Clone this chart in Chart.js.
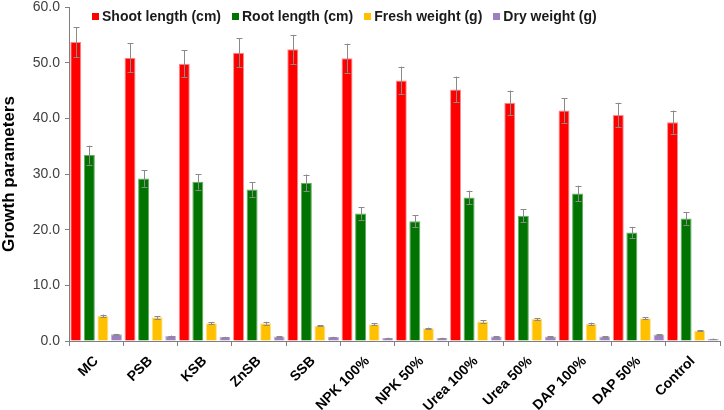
<!DOCTYPE html>
<html>
<head>
<meta charset="utf-8">
<script src="https://cdn.jsdelivr.net/npm/chart.js@4.4.1/dist/chart.umd.min.js"></script>
<style>
  html, body { margin: 0; padding: 0; background: #fff; }
  #wrap { position: relative; width: 724px; height: 410px; }
  #legend { position: absolute; left: 92px; top: 8px; display: flex; align-items: center;
    font-family: "Liberation Sans", Arial, sans-serif; font-weight: bold; font-size: 14px; color: #1a1a1a; }
  #legend .item { display: flex; align-items: center; margin-right: 11px; white-space: nowrap; }
  #legend .sw { width: 7px; height: 7px; margin-right: 3px; }
</style>
</head>
<body>
<div id="wrap">
  <canvas id="c" width="724" height="410"></canvas>
  <div id="legend"></div>
</div>
<script>
const categories = ['MC','PSB','KSB','ZnSB','SSB','NPK 100%','NPK 50%','Urea 100%','Urea 50%','DAP 100%','DAP 50%','Control'];
const seriesNames = ['Shoot length (cm)','Root length (cm)','Fresh weight (g)','Dry weight (g)'];
const shootLength = [53.7, 50.9, 49.8, 51.8, 52.4, 50.8, 46.8, 45.2, 42.8, 41.4, 40.6, 39.3];
const shootErr    = [2.7, 2.6, 2.4, 2.6, 2.6, 2.6, 2.5, 2.3, 2.2, 2.2, 2.2, 2.1];
const rootLength  = [33.4, 29.2, 28.6, 27.2, 28.4, 22.9, 21.5, 25.8, 22.5, 26.5, 19.5, 22.0];
const rootErr     = [1.7, 1.5, 1.4, 1.3, 1.5, 1.1, 1.1, 1.2, 1.2, 1.4, 1.0, 1.1];
const freshWeight = [4.5, 4.25, 3.2, 3.2, 2.75, 3.0, 2.3, 3.5, 3.95, 3.1, 4.1, 1.9];
const freshErr    = [0.25, 0.25, 0.2, 0.25, 0.12, 0.15, 0.1, 0.2, 0.2, 0.2, 0.2, 0.1];
const dryWeight   = [1.2, 0.9, 0.7, 0.8, 0.7, 0.55, 0.55, 0.8, 0.8, 0.8, 1.15, 0.4];
const dryErr      = [0.08, 0.08, 0.06, 0.06, 0.06, 0.05, 0.05, 0.06, 0.06, 0.06, 0.08, 0.04];
const yTicks = [0, 10, 20, 30, 40, 50, 60];

const colors  = ['#FF0000', '#007300', '#FFC000', '#9B7FBF'];
const borders = ['#FF8C8C', '#5FAF5F', '#FFE08A', '#C4B2DA'];
const values = [shootLength, rootLength, freshWeight, dryWeight];
const errors = [shootErr, rootErr, freshErr, dryErr];

const FONT = '"Liberation Sans", Arial, sans-serif';

const errorBars = {
  id: 'errorBars',
  afterDatasetsDraw(chart) {
    const ctx = chart.ctx;
    const y = chart.scales.y;
    ctx.save();
    ctx.strokeStyle = '#8a8a8a';
    ctx.lineWidth = 1;
    chart.data.datasets.forEach((ds, i) => {
      const meta = chart.getDatasetMeta(i);
      meta.data.forEach((el, j) => {
        const v = ds.data[j], e = errors[i][j];
        const x = Math.round(el.x) + 0.5;
        const yt = y.getPixelForValue(v + e), yb = y.getPixelForValue(v - e);
        ctx.beginPath();
        ctx.moveTo(x, yt); ctx.lineTo(x, yb);
        ctx.moveTo(x - 3, Math.round(yt) + 0.5); ctx.lineTo(x + 3, Math.round(yt) + 0.5);
        ctx.moveTo(x - 3, Math.round(yb) + 0.5); ctx.lineTo(x + 3, Math.round(yb) + 0.5);
        ctx.stroke();
      });
    });
    ctx.restore();
  }
};

const chart = new Chart(document.getElementById('c'), {
  type: 'bar',
  data: {
    labels: categories,
    datasets: seriesNames.map((n, i) => ({
      label: n,
      data: values[i],
      backgroundColor: colors[i],
      borderColor: borders[i],
      borderWidth: 1,
      categoryPercentage: 1.0,
      barPercentage: 0.81
    }))
  },
  options: {
    responsive: false,
    animation: false,
    layout: { padding: { left: 0, right: 4, top: 0, bottom: 0 } },
    plugins: { legend: { display: false }, tooltip: { enabled: false } },
    scales: {
      x: {
        grid: { display: true, offset: true, drawOnChartArea: false, tickLength: 5, color: '#7f7f7f' },
        border: { color: '#7f7f7f', width: 1 },
        ticks: { minRotation: 45, maxRotation: 45, autoSkip: false, padding: 7,
          font: { family: FONT, size: 14, weight: 'bold' }, color: '#000' },
        afterFit(scale) { scale.height = 69; }
      },
      y: {
        min: 0, max: 60,
        afterBuildTicks(scale) { scale.ticks = yTicks.map(v => ({ value: v })); },
        grid: { display: true, drawOnChartArea: false, tickLength: 4, color: '#7f7f7f' },
        border: { color: '#7f7f7f', width: 1 },
        ticks: { padding: 5, font: { family: FONT, size: 14 }, color: '#404040',
          callback: v => Number(v).toFixed(1) },
        title: { display: true, text: 'Growth parameters', color: '#000',
          font: { family: FONT, size: 17, weight: 'bold', lineHeight: 1.1 }, padding: { top: 0, bottom: 0 } },
        afterFit(scale) { scale.width = 69; scale.paddingTop = 7; scale.paddingBottom = 0; }
      }
    }
  },
  plugins: [errorBars]
});

const leg = document.getElementById('legend');
seriesNames.forEach((n, i) => {
  const it = document.createElement('div'); it.className = 'item';
  const sw = document.createElement('div'); sw.className = 'sw'; sw.style.background = colors[i];
  const t = document.createElement('span'); t.textContent = n;
  it.appendChild(sw); it.appendChild(t); leg.appendChild(it);
});
</script>
</body>
</html>
